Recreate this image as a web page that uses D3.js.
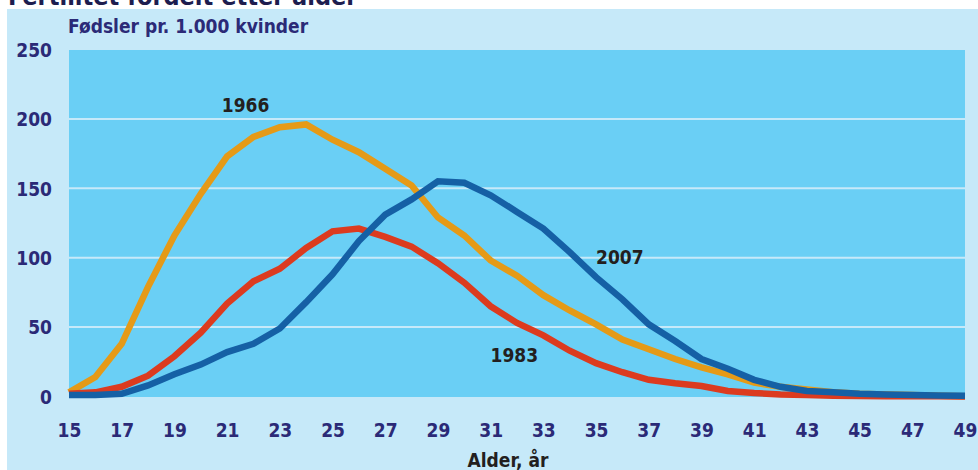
<!DOCTYPE html>
<meta charset="utf-8">
<style>
  body { margin: 0; padding: 0; background: #fff; }
  svg { display: block; }
  text { font-family: "DejaVu Sans Condensed", "DejaVu Sans", sans-serif; font-weight: bold; }
</style>
<script src="https://cdn.jsdelivr.net/npm/d3@7"></script>
<svg id="vis"></svg>
<script>

var width = 978, height = 470;

// ages 15..49
const ages = d3.range(15, 50);
const xTicks = d3.range(15, 50, 2);
const yTicks = [0, 50, 100, 150, 200, 250];

const y1966 = [3,14,38,79,116,146,173,187,194,196,185,176,164,152,129,116,98,87,73,62,52,41,34,27,21,16,10,7,5,3,2,1.5,1,0.5,0.2];
const y1983 = [2,3,7,15,29,46,67,83,92,107,119,121,115,108,96,82,65,53,44,33,24,17.5,12,9.5,7.5,4,2.5,1.5,1,0.5,0.3,0.2,0.1,0.1,0];
const y2007 = [1,1,2,8,16,23,32,38,49,68,88,112,131,142,155,154,145,133,121,104,86,70,52,40,27,20,12,7,4,3,2,1.5,1,0.7,0.5];

const series = [
  {name: "1966", values: y1966, color: "#e59a17", lx: 21.7, ly: 205},
  {name: "1983", values: y1983, color: "#dc3b1f", lx: 31.9, ly: 25},
  {name: "2007", values: y2007, color: "#1560a5", lx: 35.9, ly: 95.5}
];

var svg = d3.select("#vis").attr("width", width).attr("height", height);

// outer panel
svg.append("rect").attr("x", 7).attr("y", 9).attr("width", width - 7).attr("height", height - 9)
  .attr("fill", "#c6e9f9");

// title (cut off at the top, as in the source)
svg.append("text").attr("x", 8).attr("y", 5)
  .attr("font-size", 25).attr("fill", "#1d1d4f")
  .attr("font-family", "Liberation Sans, sans-serif")
  .text("Fertilitet fordelt etter alder");

var x = d3.scaleLinear().domain([15, 49]).range([69, 965]);
var y = d3.scaleLinear().domain([0, 250]).range([396.5, 49.5]);

// plot area
svg.append("rect").attr("x", 69).attr("y", 50).attr("width", 896).attr("height", 347)
  .attr("fill", "#6acff5");

// gridlines
svg.append("g").selectAll("line")
  .data(yTicks.filter(d => d > 0 && d < 250))
  .enter().append("line")
    .attr("x1", 69).attr("x2", 965)
    .attr("y1", d => y(d)).attr("y2", d => y(d))
    .attr("stroke", "#c6e9f9").attr("stroke-width", 2);

// y axis labels
var yAxis = d3.axisLeft(y).tickValues(yTicks).tickSize(0).tickPadding(0);
var gy = svg.append("g").attr("transform", "translate(52,0)").call(yAxis);
gy.select(".domain").remove();
gy.selectAll("text").attr("font-size", 19).attr("fill", "#2b2a77")
  .attr("font-family", null).attr("dy", "0.36em");

// x axis labels
var xAxis = d3.axisBottom(x).tickValues(xTicks).tickSize(0).tickPadding(0);
var gx = svg.append("g").attr("transform", "translate(0,423)").call(xAxis);
gx.select(".domain").remove();
gx.selectAll("text").attr("font-size", 19).attr("fill", "#2b2a77")
  .attr("font-family", null);

// lines
var line = d3.line().x((d, i) => x(ages[i])).y(d => y(d));
svg.append("g").selectAll("path")
  .data(series)
  .enter().append("path")
    .attr("d", d => line(d.values))
    .attr("fill", "none")
    .attr("stroke", d => d.color)
    .attr("stroke-width", 6.5)
    .attr("stroke-linejoin", "miter");

// series labels
svg.append("g").selectAll("text")
  .data(series)
  .enter().append("text")
    .attr("x", d => x(d.lx)).attr("y", d => y(d.ly))
    .attr("text-anchor", "middle")
    .attr("font-size", 19).attr("fill", "#231f20")
    .text(d => d.name);

// axis titles
svg.append("text").attr("x", 68).attr("y", 33)
  .attr("font-size", 19).attr("fill", "#2b2a77")
  .text("Fødsler pr. 1.000 kvinder");

svg.append("text").attr("x", 508).attr("y", 467)
  .attr("text-anchor", "middle")
  .attr("font-size", 19).attr("fill", "#231f20")
  .text("Alder, år");

</script>
